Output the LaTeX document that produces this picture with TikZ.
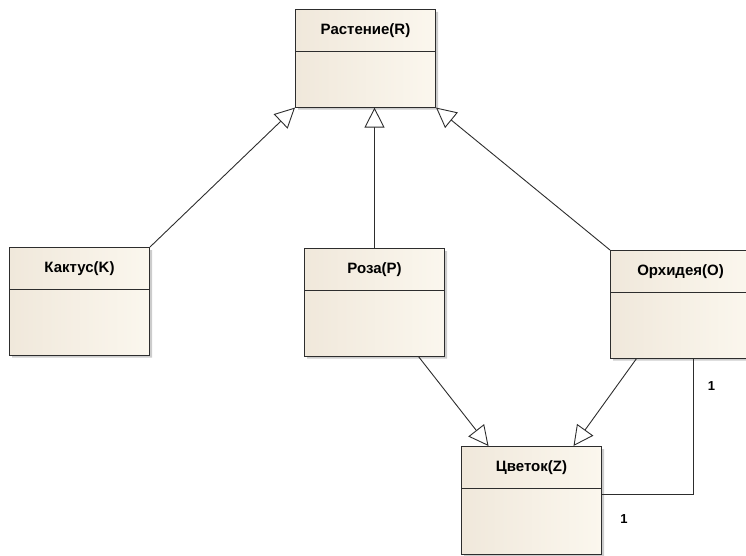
\documentclass[tikz,border=0pt]{standalone}
\usepackage{fontspec}
\setmainfont{Liberation Sans}
\usetikzlibrary{shapes.multipart,shadows,arrows.meta}

\definecolor{clsleft}{RGB}{240,232,219}
\definecolor{clsright}{RGB}{251,247,238}
\definecolor{clsedge}{RGB}{45,45,45}

\begin{document}
\begin{tikzpicture}[x=1pt,y=-1pt,
  cls/.style={rectangle split, rectangle split parts=2, draw=clsedge, line width=1pt,
    left color=clsleft, right color=clsright,
    drop shadow={shadow xshift=2.5pt, shadow yshift=-2.5pt, fill=black!40, opacity=0.5},
    text width=140pt, align=center, inner xsep=0pt, inner ysep=13.4pt,
    font=\fontsize{15}{17}\selectfont\bfseries},
  inh/.style={draw=clsedge, line width=0.9pt, -{Triangle[length=20pt,width=20pt,fill=white]}},
  assoc/.style={draw=clsedge, line width=0.9pt},
  mult/.style={font=\fontsize{13}{15}\selectfont\bfseries, inner sep=0pt}]
  \useasboundingbox (0,0) rectangle (746,556);

  \node[cls, anchor=north west] (R) at (295,9) {Растение(R)\nodepart{two}\rule{0pt}{28pt}};
  \node[cls, anchor=north west] (K) at (9,247) {Кактус(K)\nodepart{two}\rule{0pt}{38pt}};
  \node[cls, anchor=north west] (P) at (304,248) {Роза(P)\nodepart{two}\rule{0pt}{38pt}};
  \node[cls, anchor=north west] (O) at (610,250) {Орхидея(O)\nodepart{two}\rule{0pt}{38pt}};
  \node[cls, anchor=north west] (Z) at (461,446) {Цветок(Z)\nodepart{two}\rule{0pt}{38pt}};

  \draw[inh] (K.north east) -- (R.south west);
  \draw[inh] (P.north) -- (P.north |- R.south);
  \draw[inh] (O.north west) -- (R.south east);

  \draw[inh] ([xshift=44pt]P.south) -- ([xshift=-43pt]Z.north);
  \draw[inh] ([xshift=-44pt]O.south) -- ([xshift=42pt]Z.north);

  \draw[assoc] ([xshift=13pt]O.south) node[mult, xshift=18pt, yshift=-27pt] (m1) {1}
    |- ([yshift=5.5pt]Z.east) node[mult, xshift=22pt, yshift=-24pt] (m2) {1};
\end{tikzpicture}
\end{document}
